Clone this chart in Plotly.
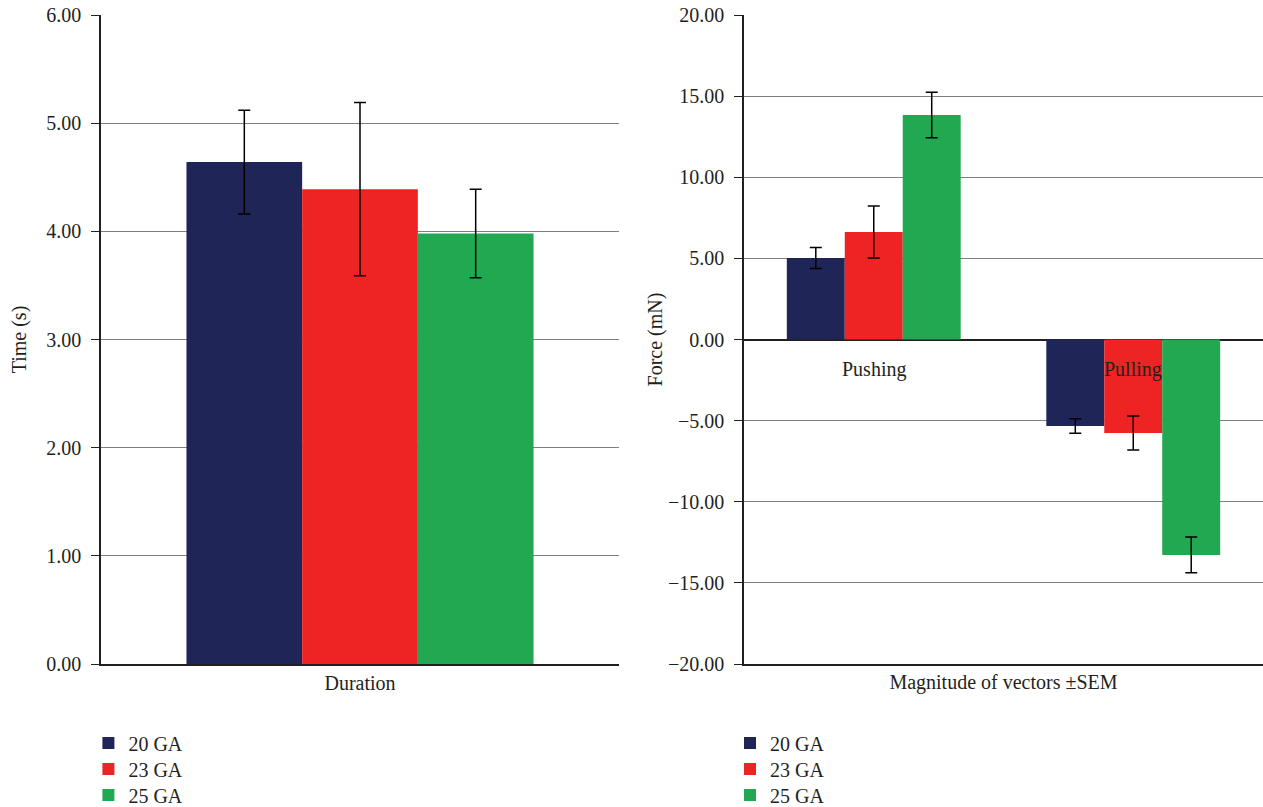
import plotly.graph_objects as go

groups = ["20 GA", "23 GA", "25 GA"]
colors = ["#1F2557", "#EE2324", "#22A850"]

dur_cat = ["Duration"]
dur_vals = [4.64, 4.39, 3.98]
dur_err = [0.48, 0.80, 0.41]

force_cat = ["Pushing", "Pulling"]
force_vals = {"20 GA": [5.02, -5.33], "23 GA": [6.63, -5.76], "25 GA": [13.84, -13.28]}
force_err = {"20 GA": [0.65, 0.45], "23 GA": [1.60, 1.05], "25 GA": [1.40, 1.10]}

FONT = "Liberation Serif, Times New Roman, serif"
fs = 20
TXT = "#231F20"

# one legend per entry so the rows can be spaced like the reference
legend_rows = [-0.1217, -0.1618, -0.2018]
legend_cols = [0.070, 0.578]

fig = go.Figure()
for i, g in enumerate(groups):
    fig.add_trace(go.Bar(
        x=dur_cat, y=[dur_vals[i]], name=g, marker_color=colors[i], marker_line_width=0,
        error_y=dict(type="data", array=[dur_err[i]], color="black", thickness=1.5, width=6),
        xaxis="x", yaxis="y", legend="legend" if i == 0 else f"legend{i + 1}"))
for i, g in enumerate(groups):
    fig.add_trace(go.Bar(
        x=force_cat, y=force_vals[g], name=g, marker_color=colors[i], marker_line_width=0,
        error_y=dict(type="data", array=force_err[g], color="black", thickness=1.5, width=6),
        xaxis="x2", yaxis="y2", legend=f"legend{i + 4}"))

for c in force_cat:
    fig.add_annotation(x=c, y=0, xref="x2", yref="y2", text=c, showarrow=False,
                       yanchor="middle", yshift=-30, font=dict(family=FONT, size=fs, color=TXT))

axfont = dict(family=FONT, size=fs, color=TXT)
legends = {}
for k in range(6):
    key = "legend" if k == 0 else f"legend{k + 1}"
    legends[key] = dict(x=legend_cols[k // 3], y=legend_rows[k % 3], xanchor="left", yanchor="middle",
                        font=axfont, bgcolor="rgba(0,0,0,0)")

fig.update_layout(
    width=1263, height=807,
    margin=dict(l=0, r=0, t=15, b=143, autoexpand=False),
    paper_bgcolor="white", plot_bgcolor="white",
    barmode="group", bargap=0.33, bargroupgap=0,
    font=axfont,
    xaxis=dict(domain=[101/1263, 619/1263], anchor="y", showline=True, linecolor=TXT, linewidth=1.5,
               ticks="", tickfont=axfont, showgrid=False, automargin=False),
    yaxis=dict(domain=[0, 1], anchor="x", range=[0, 6], dtick=1, tickformat=".2f",
               showline=True, linecolor=TXT, linewidth=1.5, ticks="outside", ticklen=8,
               tickcolor=TXT, showgrid=True, gridcolor="#7F7F7F", gridwidth=1.2,
               zeroline=False, tickfont=axfont, ticklabelstandoff=6, automargin=False,
               title=dict(text="Time (s)", font=axfont, standoff=14)),
    xaxis2=dict(domain=[744/1263, 1.0], anchor="y2", showline=True, linecolor=TXT, linewidth=1.5,
                showticklabels=False, ticks="", showgrid=False, automargin=False,
                title=dict(text="Magnitude of vectors \u00b1SEM", font=axfont, standoff=10)),
    yaxis2=dict(domain=[0, 1], anchor="x2", range=[-20, 20], dtick=5, tickformat=".2f",
                showline=True, linecolor=TXT, linewidth=1.5, ticks="outside", ticklen=8,
                tickcolor=TXT, showgrid=True, gridcolor="#7F7F7F", gridwidth=1.2,
                zeroline=True, zerolinecolor=TXT, zerolinewidth=1.5, tickfont=axfont,
                ticklabelstandoff=6, automargin=False,
                title=dict(text="Force (mN)", font=axfont, standoff=0)),
    showlegend=True,
    **legends,
)
fig.write_html("out.html", config={"displayModeBar": False},
               post_script="document.body.style.margin='0';")
